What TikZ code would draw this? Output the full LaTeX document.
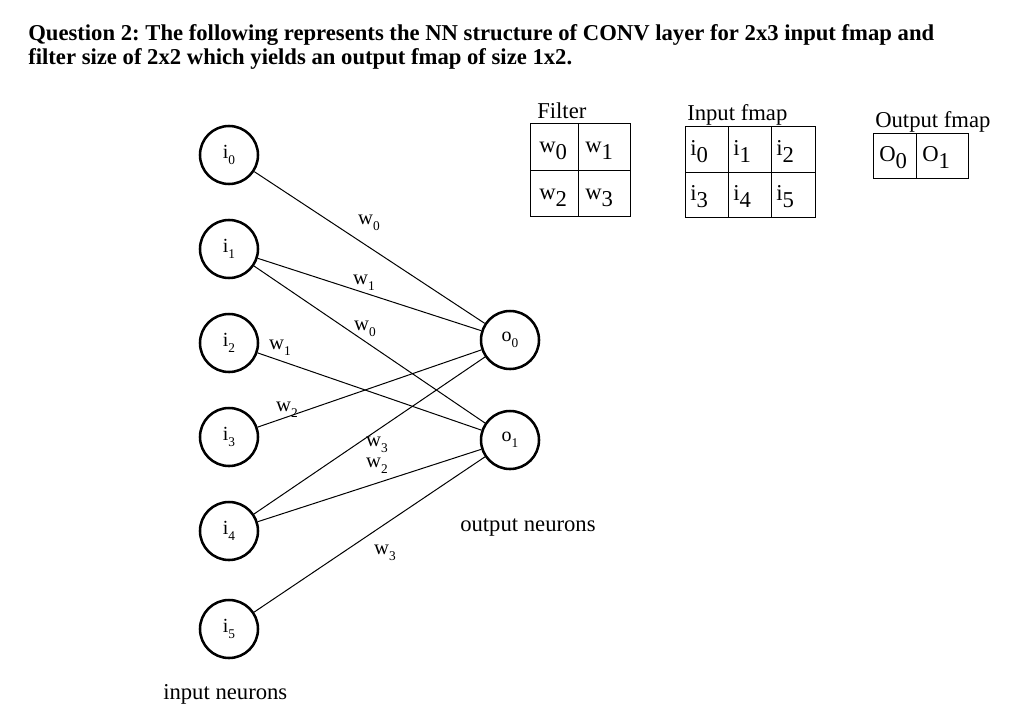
\documentclass[tikz,border=0pt]{standalone}
\usepackage{fontspec}
\setmainfont{Liberation Serif}
\newcommand\lowsub[1]{\raisebox{-0.3em}{\fontsize{10}{10}\selectfont #1}}
\newcommand\tsub[1]{\raisebox{-0.32em}{#1}}
\frenchspacing
\begin{document}
\begin{tikzpicture}[x=0.75pt,y=-0.75pt,
  neuron/.style={circle,draw,line width=1.9pt,minimum size=43.5pt,inner sep=0pt,font=\fontsize{15}{15}\selectfont},
  conn/.style={line width=0.75pt},
  wlab/.style={font=\fontsize{15.5}{15.5}\selectfont,inner sep=0pt},
  grid/.style={line width=0.75pt},
  cell/.style={font=\fontsize{17}{17}\selectfont,inner sep=0pt,anchor=base west},
  lab/.style={font=\fontsize{17}{17}\selectfont,inner sep=0pt,anchor=base west}]
\useasboundingbox (0,0) rectangle (1020,725);
% title
\node[lab,font=\fontsize{17}{17}\selectfont\bfseries] (t1) at (28,40) {Question 2: The following represents the NN structure of CONV layer for 2x3 input fmap and};
\node[lab,font=\fontsize{17}{17}\selectfont\bfseries] (t2) at (28,64) {filter size of 2x2 which yields an output fmap of size 1x2.};
% neurons
\node[neuron] (i0) at (229,155) {i\lowsub{0}};
\node[neuron] (i1) at (229,249) {i\lowsub{1}};
\node[neuron] (i2) at (229,343) {i\lowsub{2}};
\node[neuron] (i3) at (229,437) {i\lowsub{3}};
\node[neuron] (i4) at (229,531) {i\lowsub{4}};
\node[neuron] (i5) at (229,629) {i\lowsub{5}};
\node[neuron] (o0) at (510,340) {o\lowsub{0}};
\node[neuron] (o1) at (510,440) {o\lowsub{1}};
% connections
\draw[conn] (i0) -- (o0);
\draw[conn] (i1) -- (o0);
\draw[conn] (i1) -- (o1);
\draw[conn] (i2) -- (o1);
\draw[conn] (i3) -- (o0);
\draw[conn] (i4) -- (o0);
\draw[conn] (i4) -- (o1);
\draw[conn] (i5) -- (o1);
% weight labels
\node[wlab] (wa) at (369,223) {w\lowsub{0}};
\node[wlab] (wb) at (364,283) {w\lowsub{1}};
\node[wlab] (wc) at (365,329) {w\lowsub{0}};
\node[wlab] (wd) at (280,348) {w\lowsub{1}};
\node[wlab] (we) at (287,410) {w\lowsub{2}};
\node[wlab] (wf) at (377,445) {w\lowsub{3}};
\node[wlab] (wg) at (377,466) {w\lowsub{2}};
\node[wlab] (wh) at (385,553) {w\lowsub{3}};
\node[lab] (on) at (460,531) {output neurons};
\node[lab] (inn) at (163,699) {input neurons};
% filter table
\node[lab] (ft) at (537,118) {Filter};
\draw[grid] (530,123) rectangle (630,216);
\draw[grid] (578,123) -- (578,216);
\draw[grid] (530,170) -- (630,170);
\node[cell] (f0) at (539,152) {w\tsub{0}};
\node[cell] (f1) at (585,152) {w\tsub{1}};
\node[cell] (f2) at (539,199) {w\tsub{2}};
\node[cell] (f3) at (585,199) {w\tsub{3}};
% input fmap
\node[lab] (it) at (687,120) {Input fmap};
\draw[grid] (685,126) rectangle (815,217);
\draw[grid] (728,126) -- (728,217);
\draw[grid] (771,126) -- (771,217);
\draw[grid] (685,172) -- (815,172);
\node[cell] (c0) at (690,155) {i\tsub{0}};
\node[cell] (c1) at (733,155) {i\tsub{1}};
\node[cell] (c2) at (776,155) {i\tsub{2}};
\node[cell] (c3) at (690,200) {i\tsub{3}};
\node[cell] (c4) at (733,200) {i\tsub{4}};
\node[cell] (c5) at (776,200) {i\tsub{5}};
% output fmap
\node[lab] (ot) at (875,127) {Output fmap};
\draw[grid] (873,133) rectangle (968,178);
\draw[grid] (916,133) -- (916,178);
\node[cell] (d0) at (879,161) {O\tsub{0}};
\node[cell] (d1) at (922,161) {O\tsub{1}};
\end{tikzpicture}
\end{document}
